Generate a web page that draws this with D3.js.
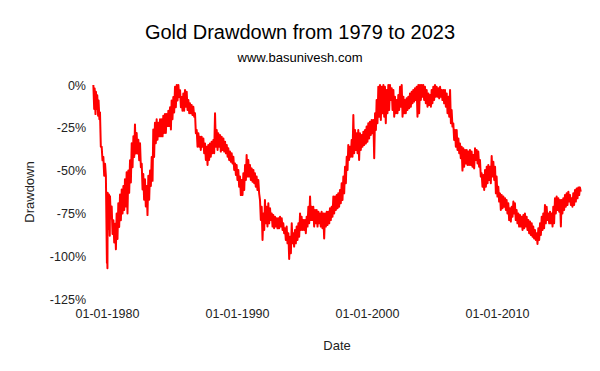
<!DOCTYPE html>
<html><head><meta charset="utf-8">
<script src="https://cdn.jsdelivr.net/npm/d3@7"></script>
<style>body{margin:0;background:#fff;}svg{display:block;font-family:"Liberation Sans",Arial,sans-serif;}</style>
</head><body>
<svg id="c" width="600" height="371"></svg>
<script>
const years = [1978.95,1979.05,1979.15,1979.25,1979.35,1979.46,1979.59,1979.72,1979.85,1979.93,1979.97,1980.05,1980.15,1980.23,1980.36,1980.49,1980.62,1980.74,1980.87,1981.00,1981.13,1981.26,1981.38,1981.51,1981.64,1981.77,1981.90,1982.03,1982.15,1982.28,1982.41,1982.54,1982.67,1982.79,1982.92,1983.05,1983.18,1983.31,1983.44,1983.56,1983.69,1983.82,1983.95,1984.08,1984.21,1984.33,1984.46,1984.59,1984.72,1984.85,1984.97,1985.10,1985.23,1985.36,1985.49,1985.62,1985.74,1985.87,
1986.00,1986.13,1986.26,1986.38,1986.51,1986.64,1986.77,1986.90,1987.03,1987.15,1987.28,1987.41,1987.54,1987.67,1987.79,1987.92,1988.05,1988.18,1988.31,1988.44,1988.56,1988.69,1988.82,1988.95,1989.08,1989.21,1989.33,1989.46,1989.59,1989.72,1989.85,1989.97,1990.10,1990.23,1990.36,1990.49,1990.62,1990.74,1990.87,1991.00,1991.13,1991.26,1991.38,1991.51,1991.64,1991.77,1991.90,1992.03,1992.15,1992.28,1992.41,1992.54,1992.67,1992.79,1992.92,1993.05,1993.18,
1993.31,1993.44,1993.56,1993.69,1993.82,1993.95,1994.08,1994.21,1994.33,1994.46,1994.59,1994.72,1994.85,1994.97,1995.10,1995.23,1995.36,1995.49,1995.62,1995.74,1995.87,1996.00,1996.13,1996.26,1996.38,1996.51,1996.64,1996.77,1996.90,1997.03,1997.15,1997.28,1997.41,1997.54,1997.67,1997.79,1997.92,1998.05,1998.18,1998.31,1998.44,1998.56,1998.69,1998.82,1998.95,1999.08,1999.21,1999.33,1999.46,1999.59,1999.72,1999.85,1999.97,2000.10,2000.23,2000.36,2000.49,
2000.62,2000.74,2000.87,2001.00,2001.13,2001.26,2001.38,2001.51,2001.64,2001.77,2001.90,2002.03,2002.15,2002.28,2002.41,2002.54,2002.67,2002.80,2002.92,2003.05,2003.18,2003.31,2003.44,2003.56,2003.69,2003.82,2003.95,2004.08,2004.21,2004.33,2004.46,2004.59,2004.72,2004.85,2004.97,2005.10,2005.23,2005.36,2005.49,2005.62,2005.74,2005.87,2006.00,2006.13,2006.26,2006.39,2006.51,2006.64,2006.77,2006.90,2007.03,2007.15,2007.28,2007.41,2007.54,2007.67,2007.79,
2007.92,2008.05,2008.18,2008.31,2008.44,2008.56,2008.69,2008.82,2008.95,2009.08,2009.21,2009.33,2009.46,2009.59,2009.72,2009.85,2009.97,2010.10,2010.23,2010.36,2010.49,2010.62,2010.74,2010.87,2011.00,2011.13,2011.26,2011.38,2011.51,2011.64,2011.77,2011.90,2012.03,2012.15,2012.28,2012.41,2012.54,2012.67,2012.79,2012.92,2013.05,2013.18,2013.31,2013.44,2013.56,2013.69,2013.82,2013.95,2014.08,2014.21,2014.33,2014.46,2014.59,2014.72,2014.85,2014.97,2015.10,2015.23,2015.36,2015.49,2015.62,2015.74,2015.87,2016.00,2016.13,2016.26,2016.38];

const ddHigh = [0,-2,-4,-6,-9,-16,-36,-42,-46,-63,-80,-63,-64,-65,-71,-79,-81,-75,-69,-64,-61,-59,-55,-51,-50,-44,-34,-30,-23,-28,-32,-34,-46,-52,-55,-59,-53,-50,-42,-26,-22,-20,-22,-20,-20,-18,-17,-17,-15,-13,-9,-7,-1,0,0,-3,-7,-5,
-2.9,-3.9,-8.8,-10.7,-11.7,-12.7,-16.5,-26.3,-28.2,-30.2,-30.2,-31.2,-34.1,-36.0,-35.0,-34.1,-33.1,-32.1,-16.5,-26.3,-28.2,-29.2,-30.2,-31.2,-33.1,-35.0,-37.0,-38.9,-39.9,-41.9,-45.8,-46.7,-49.6,-53.5,-55.5,-51.6,-46.7,-40.9,-43.8,-46.7,-48.7,-49.6,-51.6,-53.5,-55.5,-67.2,-71.1,-75.0,-67.2,-71.1,-69.1,-72.0,-75.0,-75.9,-76.9,-77.9,-77.9,
-76.9,-77.9,-80.8,-83.7,-82.7,-86.6,-88.6,-80.8,-86.6,-84.7,-82.7,-80.8,-75.0,-76.9,-78.9,-78.9,-76.9,-71.1,-65.2,-71.1,-71.1,-73.0,-73.0,-74.0,-75.0,-74.0,-75.0,-75.0,-74.0,-74.0,-72.0,-71.1,-65.2,-65.2,-64.3,-63.3,-61.3,-57.4,-53.5,-47.7,-41.9,-35.0,-36.0,-32.1,-17.5,-26.3,-28.2,-26.3,-28.2,-29.2,-27.3,-26.3,-24.3,-22.4,-21.4,-20.4,-20.4,
-16.5,-8.8,-1.0,0,-1.0,0,-1.0,-2.9,0,0,-1.9,-2.9,-6.8,-8.8,-5.8,-1.0,0,-6.8,-8.8,-7.8,-6.8,-4.9,-3.9,-2.9,-1.9,-1.0,0,0,0,0,-1.0,-2.9,-4.9,-5.8,-2.9,-1.0,0,-1.0,-1.9,-1.0,-2.9,-2.9,-2.9,-4.9,-6.8,-2.9,-14.6,-22.4,-26.3,-26.3,-31.2,-34.1,-36.0,-37.0,-38.0,-38.0,-38.9,
-38.0,-38.9,-40.9,-37.0,-38.0,-38.9,-43.8,-51.6,-52.6,-49.6,-47.7,-46.7,-47.7,-41.5,-44.8,-47.7,-53.5,-59.4,-63.3,-64.3,-65.2,-66.2,-67.2,-69.1,-72.0,-71.1,-68.1,-69.1,-73.0,-75.0,-75.9,-76.9,-75.9,-75.0,-76.9,-78.9,-79.8,-80.8,-82.7,-84.7,-86.6,-83.7,-80.8,-76.9,-75.0,-70.1,-71.1,-75.0,-74.0,-75.0,-71.1,-66.2,-65.2,-66.2,-67.2,-67.2,-66.2,-64.3,-63.3,-62.3,-64.3,-66.2,-63.3,-61.3,-60.4,-59.8,-59.8];

const ddLow = [-14,-17,-14,-18,-20,-36,-44,-53,-53,-104,-107,-84,-88,-78,-87,-92,-96,-90,-83,-79,-75,-73,-71,-75,-63,-57,-48,-42,-40,-40,-44,-48,-61,-67,-71,-76,-67,-59,-56,-42,-34,-32,-30,-30,-30,-28,-28,-24,-24,-26,-20,-16,-13,-9,-7,-13,-15,-15,
-12.7,-14.6,-16.5,-16.5,-17.5,-18.5,-28.2,-36.0,-36.0,-38.0,-36.0,-39.9,-43.8,-46.7,-43.8,-41.9,-39.9,-39.9,-36.0,-38.0,-36.0,-38.9,-38.0,-38.9,-39.9,-41.9,-43.8,-44.8,-45.8,-49.6,-52.6,-55.5,-59.4,-64.3,-64.3,-61.3,-55.5,-53.5,-53.5,-55.5,-56.5,-57.4,-59.4,-61.3,-63.3,-78.9,-90.5,-84.7,-80.8,-82.7,-80.8,-78.9,-82.7,-83.7,-82.7,-83.7,-83.7,
-82.7,-84.7,-86.6,-90.5,-92.5,-101.6,-98.3,-92.5,-94.4,-92.5,-90.5,-88.6,-84.7,-84.7,-84.7,-86.6,-82.7,-80.8,-78.9,-78.9,-82.7,-80.8,-82.7,-80.8,-82.7,-83.7,-89.6,-82.7,-81.8,-80.8,-78.9,-76.9,-75.0,-73.0,-72.0,-71.1,-69.1,-67.2,-63.3,-57.4,-49.6,-43.8,-41.9,-41.9,-39.9,-38.0,-39.9,-43.8,-38.0,-36.0,-35.0,-34.1,-33.1,-31.2,-29.2,-28.2,-42.8,
-26.3,-22.4,-18.5,-20.4,-16.5,-18.5,-22.4,-16.5,-14.6,-8.8,-14.6,-18.5,-16.5,-16.5,-14.6,-12.7,-18.5,-16.5,-16.5,-14.6,-13.6,-12.7,-10.7,-9.7,-8.8,-18.5,-16.5,-8.8,-6.8,-8.8,-10.7,-12.7,-11.7,-12.7,-10.7,-8.8,-6.8,-6.8,-7.8,-6.8,-8.8,-10.7,-12.7,-16.5,-18.5,-22.4,-24.3,-32.1,-36.0,-38.0,-39.9,-42.8,-50.0,-47.7,-45.8,-46.7,-46.7,
-46.7,-47.7,-48.7,-43.8,-45.8,-47.7,-53.5,-59.4,-61.3,-59.4,-57.4,-55.5,-57.4,-53.5,-55.5,-63.3,-65.2,-68.1,-73.0,-72.0,-71.1,-73.0,-75.0,-78.9,-79.8,-76.9,-75.0,-78.9,-80.8,-82.7,-82.7,-84.7,-83.7,-82.7,-84.7,-86.6,-87.6,-88.6,-89.6,-90.5,-92.9,-90.5,-87.6,-84.7,-83.7,-80.8,-78.9,-80.8,-80.8,-82.7,-80.8,-75.0,-73.0,-74.0,-82.7,-75.0,-73.0,-71.1,-70.1,-68.1,-70.1,-71.1,-70.1,-68.1,-66.2,-64.3,-62.3];

const yTicks = [0, -25, -50, -75, -100, -125];
const xTickDates = ["1980-01-01", "1990-01-01", "2000-01-01", "2010-01-01"];

function yearToDate(y) {
  const yr = Math.floor(y);
  const start = new Date(yr, 0, 1).getTime();
  const end = new Date(yr + 1, 0, 1).getTime();
  return new Date(start + (y - yr) * (end - start));
}

const points = [];
years.forEach((y, i) => {
  points.push({ t: yearToDate(y), v: ddHigh[i] });
  points.push({ t: yearToDate(y + 0.064), v: ddLow[i] });
});

const svg = d3.select("#c");
const x = d3.scaleTime()
  .domain([new Date(1980, 0, 1), new Date(2010, 0, 1)])
  .range([107, 497]);
const y = d3.scaleLinear().domain([-125, 0]).range([299, 85]);

// title
svg.append("text").attr("x", 300).attr("y", 39).attr("text-anchor", "middle")
  .attr("font-size", 20).attr("fill", "#000").text("Gold Drawdown from 1979 to 2023");
svg.append("text").attr("x", 300).attr("y", 62).attr("text-anchor", "middle")
  .attr("font-size", 13).attr("fill", "#000").text("www.basunivesh.com");

// y axis
const yAxis = d3.axisLeft(y).tickValues(yTicks).tickSize(0).tickPadding(0)
  .tickFormat(d => d + "%");
const gy = svg.append("g").attr("transform", "translate(86,0)").call(yAxis);
gy.select(".domain").remove();
gy.selectAll("text").attr("font-size", 12.5).attr("fill", "#222")
  .attr("font-family", '"Liberation Sans",Arial,sans-serif');

// x axis
const xAxis = d3.axisBottom(x).tickValues(xTickDates.map(s => d3.timeParse("%Y-%m-%d")(s)))
  .tickSize(0).tickPadding(0).tickFormat(d3.timeFormat("%d-%m-%Y"));
const gx = svg.append("g").attr("transform", "translate(0,309)").call(xAxis);
gx.select(".domain").remove();
gx.selectAll("text").attr("font-size", 12.5).attr("fill", "#222")
  .attr("font-family", '"Liberation Sans",Arial,sans-serif');

// axis titles
svg.append("text").attr("x", 337).attr("y", 350).attr("text-anchor", "middle")
  .attr("font-size", 13).attr("fill", "#222").text("Date");
svg.append("text").attr("transform", "translate(34,192) rotate(-90)").attr("text-anchor", "middle")
  .attr("font-size", 13).attr("fill", "#222").text("Drawdown");

// line
const line = d3.line().x(d => x(d.t)).y(d => y(d.v));
svg.append("path").datum(points).attr("d", line)
  .attr("fill", "none").attr("stroke", "#ff0000").attr("stroke-width", 2)
  .attr("stroke-linejoin", "round");
</script>
</body></html>
